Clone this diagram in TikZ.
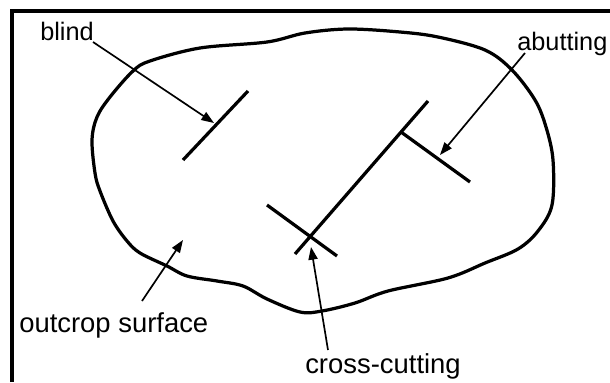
\documentclass[tikz,border=0pt]{standalone}
\usepackage{fontspec}
\setmainfont{Liberation Sans}
\usetikzlibrary{arrows.meta}

\begin{document}
\begin{tikzpicture}[x=0.025cm, y=-0.025cm, >={Triangle[length=9pt, width=6.5pt]},
        flabel/.style={inner sep=0pt, anchor=base west, font=\fontsize{18}{22}\selectfont},
        fault/.style={line width=2.3pt},
        pointer/.style={->, line width=1.2pt}]
        \useasboundingbox (0,0) rectangle (610,382);

        % Frame
        \draw[line width=2.3pt] (12,382) -- (12,11) -- (610,11);

        % Outcrop boundary
        \draw[line width=2.3pt] plot[smooth cycle, tension=0.55] coordinates {
            (133,71) (150,61) (200,48) (267,42) (305,33) (348,29) (400,32)
            (438,37) (485,50) (512,70) (535,100) (546,127) (553,160) (552,205)
            (538,231) (518,249) (485,263) (448,278) (388,291) (355,303) (322,311)
            (300,312) (267,299) (243,286) (217,281) (187,276) (167,266) (140,253)
            (127,241) (113,221) (100,191) (95,173) (92,140) (97,117) (110,97)};

        % Fault traces
        \coordinate (blindA) at (183,160);
        \coordinate (blindB) at (248,91);
        \coordinate (mainA) at (295,254);
        \coordinate (mainB) at (428,101);
        \coordinate (abutA) at (401,132);
        \coordinate (abutB) at (470,182);
        \coordinate (crossA) at (267,205);
        \coordinate (crossB) at (337,256);
        \draw[fault] (blindA) -- (blindB);
        \draw[fault] (mainA) -- (mainB);
        \draw[fault] (abutA) -- (abutB);
        \draw[fault] (crossA) -- (crossB);

        % Labels
        \node[flabel] (blind) at (40,40) {blind};
        \node[flabel] (abutting) at (517,50) {abutting};
        \node[flabel, font=\fontsize{19.5}{23}\selectfont] (outcrop) at (19,332) {outcrop surface};
        \node[flabel, font=\fontsize{19.5}{23}\selectfont] (crossing) at (305,373) {cross-cutting};

        % Pointers
        \coordinate (blindTail) at (93,42);
        \coordinate (blindTip) at (214,123);
        \coordinate (abutTail) at (525,53);
        \coordinate (abutTip) at (440,155);
        \coordinate (outTail) at (142,301);
        \coordinate (outTip) at (183,240);
        \coordinate (crossTail) at (328,350);
        \coordinate (crossTip) at (311,247);
        \draw[pointer] (blindTail) -- (blindTip);
        \draw[pointer] (abutTail) -- (abutTip);
        \draw[pointer] (outTail) -- (outTip);
        \draw[pointer] (crossTail) -- (crossTip);
\end{tikzpicture}
\end{document}
